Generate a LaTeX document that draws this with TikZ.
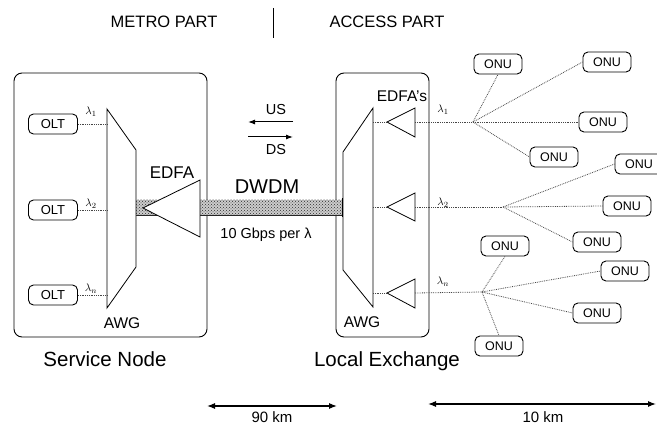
\documentclass[tikz,border=0pt]{standalone}
\usepackage{fontspec}
\setmainfont{Liberation Sans}
\usetikzlibrary{arrows.meta,patterns}
\begin{document}
\begin{tikzpicture}[x=1pt,y=-1pt,
  onu/.style={draw, rounded corners=5pt, minimum width=48pt, minimum height=20pt, inner sep=0pt, font=\fontsize{12.5}{12.5}\selectfont, line width=0.9pt},
  olt/.style={onu, minimum width=49pt, font=\fontsize{13}{13}\selectfont},
  fib/.style={draw=gray!55!black, densely dotted, line width=0.8pt},
  lam/.style={font=\fontsize{11}{11}\selectfont, inner sep=0pt},
  site/.style={draw, rounded corners=8pt, line width=0.9pt},
  dev/.style={draw, fill=white, line width=0.8pt, line join=miter},
  dim/.style={{Latex[length=8pt,width=6pt]}-{Latex[length=8pt,width=6pt]}, line width=1.1pt},
  dir/.style={-{Latex[length=7pt,width=5pt]}, line width=1pt},
  lbl/.style={inner sep=0pt}
]
\useasboundingbox (0,0) rectangle (657,425);

% header
\node[lbl, font=\fontsize{16.5}{16.5}\selectfont] (metro) at (164,22) {METRO PART};
\node[lbl, font=\fontsize{16.5}{16.5}\selectfont] (access) at (387,22) {ACCESS PART};
\coordinate (sepT) at (273,8);
\coordinate (sepB) at (273,38);
\draw[line width=1pt] (sepT) -- (sepB);

% sites
\draw[site] (14,73) rectangle (207,337);
\draw[site] (336,73) rectangle (429,337);
\node[lbl, font=\fontsize{20.5}{20.5}\selectfont] (sn) at (105,359) {Service Node};
\node[lbl, font=\fontsize{20.5}{20.5}\selectfont] (le) at (387,361) {Local Exchange};

% fibre trunk
\fill[gray!40] (136,200) rectangle (343,215);
\fill[pattern=crosshatch dots, pattern color=gray!35!black] (136,200) rectangle (343,215);
\draw[gray!30!black, line width=0.8pt] (136,215) -- (343,215);
\draw[gray!60, line width=0.5pt] (136,200) -- (343,200);
\draw[line width=1.2pt] (343,198) -- (343,217);

% service node AWG
\draw[dev] (107,109) -- (136,150) -- (136,267) -- (107,308) -- cycle;
\node[lbl, font=\fontsize{15.5}{15.5}\selectfont] (awg1) at (122,323) {AWG};
\coordinate (a1p1) at (107,124);
\coordinate (a1p2) at (107,210);
\coordinate (a1p3) at (107,295);

% EDFA
\draw[dev] (143,208) -- (200,180) -- (200,237) -- cycle;
\node[lbl, font=\fontsize{17}{17}\selectfont] (edfa) at (172,173) {EDFA};

% OLTs
\node[olt] (olt1) at (53,124) {OLT};
\node[olt] (olt2) at (53,210) {OLT};
\node[olt] (olt3) at (53,295) {OLT};
\draw[fib] (olt1.east) -- (a1p1);
\draw[fib] (olt2.east) -- (a1p2);
\draw[fib] (olt3.east) -- (a1p3);
\node[lam] (l1a) at (91,112) {$\lambda_1$};
\node[lam] (l2a) at (91,204) {$\lambda_2$};
\node[lam] (l3a) at (91,289) {$\lambda_n$};

% middle labels
\node[lbl, font=\fontsize{14.5}{14.5}\selectfont] (us) at (276,110) {US};
\node[lbl, font=\fontsize{14.5}{14.5}\selectfont] (ds) at (276,150) {DS};
\coordinate (usR) at (293,122); \coordinate (usL) at (248,122);
\coordinate (dsL) at (248,137); \coordinate (dsR) at (293,137);
\draw[dir] (usR) -- (usL);
\draw[dir] (dsL) -- (dsR);
\node[lbl, font=\fontsize{20}{20}\selectfont] (dwdm) at (267,187) {DWDM};
\node[lbl, font=\fontsize{14.5}{14.5}\selectfont] (rate) at (266,235) {10 Gbps per λ};

% local exchange AWG
\draw[dev] (343,152) -- (373,108) -- (373,307) -- (343,270) -- cycle;
\node[lbl, font=\fontsize{15.5}{15.5}\selectfont] (awg2) at (362,322) {AWG};
\node[lbl, font=\fontsize{15.5}{15.5}\selectfont] (edfas) at (402,96) {EDFA's};

% EDFA's
\draw[dev] (387,122) -- (415,108) -- (415,137) -- cycle;
\draw[dev] (387,207) -- (415,193) -- (415,221) -- cycle;
\draw[dev] (387,293) -- (415,279) -- (415,308) -- cycle;
\coordinate (a2o1) at (373,122); \coordinate (e1in) at (387,122); \coordinate (e1out) at (415,122);
\coordinate (a2o2) at (373,207); \coordinate (e2in) at (387,207); \coordinate (e2out) at (415,207);
\coordinate (a2o3) at (373,293); \coordinate (e3in) at (387,293); \coordinate (e3out) at (415,293);
\draw[fib] (a2o1) -- (e1in);
\draw[fib] (a2o2) -- (e2in);
\draw[fib] (a2o3) -- (e3in);
\node[lam] (l1b) at (443,110) {$\lambda_1$};
\node[lam] (l2b) at (443,203) {$\lambda_2$};
\node[lam] (l3b) at (443,282) {$\lambda_n$};

% splitters
\coordinate (s1) at (473,122);
\coordinate (s2) at (503,207);
\coordinate (s3) at (482,292);
\draw[fib] (e1out) -- (s1);
\draw[fib] (e2out) -- (s2);
\draw[fib] (e3out) -- (s3);

% ONUs
\node[onu] (oA) at (498,64) {ONU};
\node[onu] (oB) at (607,62) {ONU};
\node[onu] (oC) at (603,122) {ONU};
\node[onu] (oD) at (554,157) {ONU};
\node[onu] (oE) at (639,164) {ONU};
\node[onu] (oF) at (627,206) {ONU};
\node[onu] (oG) at (597,242) {ONU};
\node[onu] (oH) at (505,246) {ONU};
\node[onu] (oI) at (625,271) {ONU};
\node[onu] (oJ) at (597,313) {ONU};
\node[onu] (oK) at (499,346) {ONU};

\draw[fib] (s1) -- (oA.south);
\draw[fib] (s1) -- (oB.west);
\draw[fib] (s1) -- (oC.west);
\draw[fib] (s1) -- (oD.west);
\draw[fib] (s2) -- (oE.west);
\draw[fib] (s2) -- (oF.west);
\draw[fib] (s2) -- (oG.west);
\draw[fib] (s3) -- (oH.south);
\draw[fib] (s3) -- (oI.west);
\draw[fib] (s3) -- (oJ.west);
\draw[fib] (s3) -- (oK.north);

% distances
\coordinate (d1L) at (207,406); \coordinate (d1R) at (337,406);
\coordinate (d2L) at (428,404); \coordinate (d2R) at (656,404);
\draw[dim] (d1L) -- (d1R);
\draw[dim] (d2L) -- (d2R);
\node[lbl, font=\fontsize{15}{15}\selectfont] (km90) at (272,417) {90 km};
\node[lbl, font=\fontsize{15}{15}\selectfont] (km10) at (543,417) {10 km};
\end{tikzpicture}
\end{document}
